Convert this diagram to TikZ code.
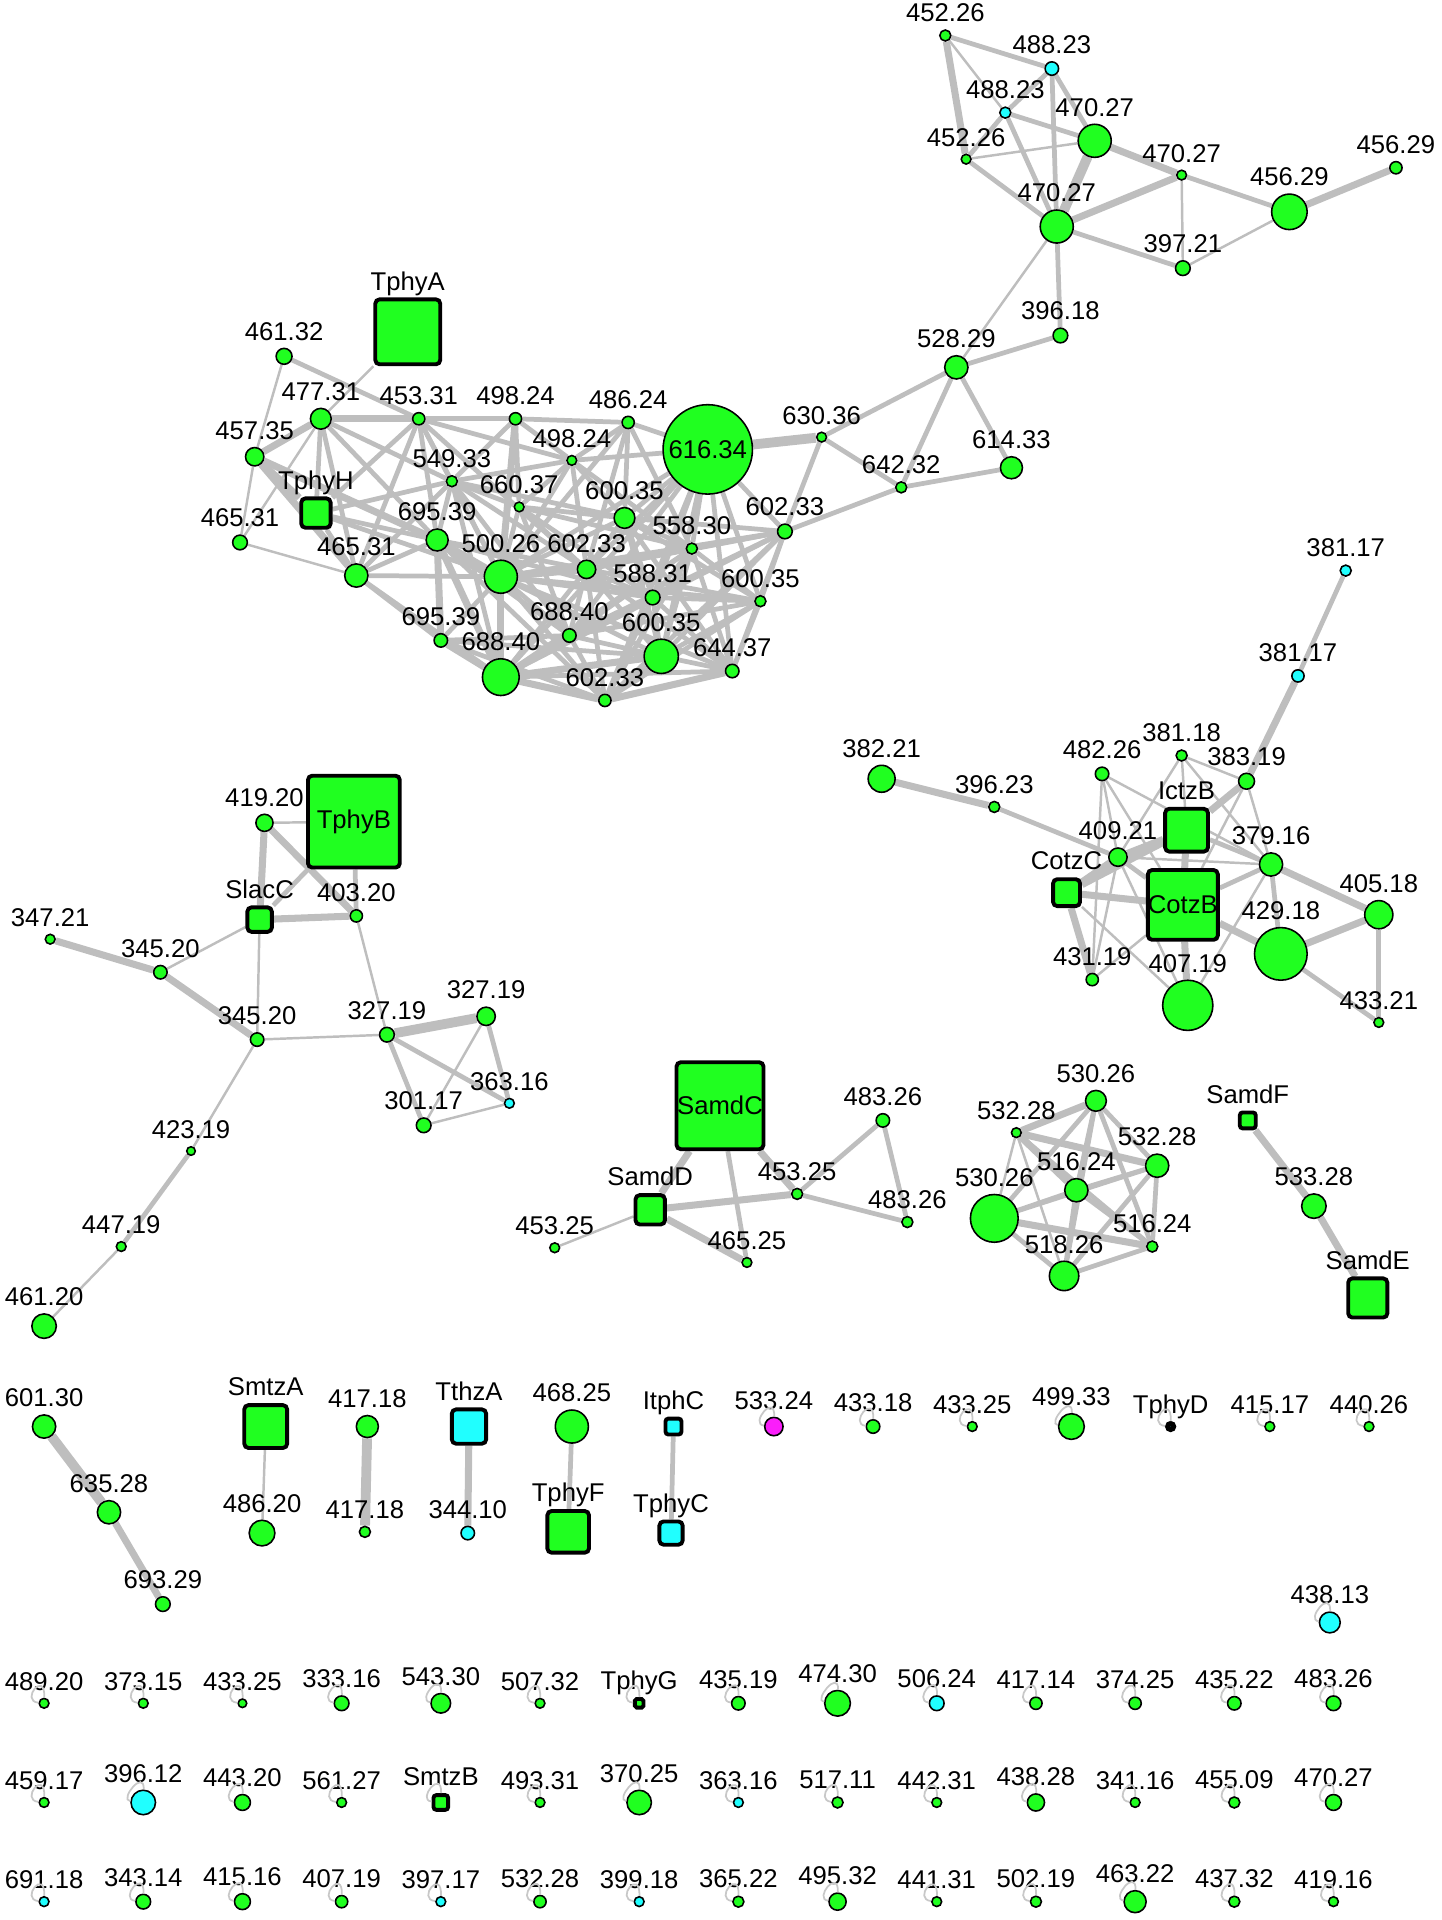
\documentclass[tikz,border=0pt]{standalone}
\usepackage{fontspec}
\setmainfont{Liberation Sans}
\usetikzlibrary{backgrounds}

\definecolor{mzgreen}{RGB}{32,255,32}
\definecolor{mzcyan}{RGB}{32,255,255}
\definecolor{mzpink}{RGB}{250,30,250}
\definecolor{edgegray}{RGB}{190,190,190}
\definecolor{loopgray}{RGB}{200,200,200}
\newcommand{\lbl}{\fontsize{7.3}{8.5}\selectfont}

\tikzset{
	every label/.style={font=\lbl, inner sep=0.4pt, text depth=1.2pt},
	label distance=0.3pt,
	mz/.style={circle, draw=black, line width=0.45pt, fill=mzgreen, inner sep=0pt, font=\lbl, minimum size=#1*0.1224mm},
	org/.style={rectangle, rounded corners=1.2pt, draw=black, line width=1.1pt, fill=mzgreen, inner sep=0pt, font=\lbl, minimum size=#1*0.1224mm},
	e1/.style={draw=edgegray, line width=0.7pt},
	e2/.style={draw=edgegray, line width=1.35pt},
	e3/.style={draw=edgegray, line width=2pt},
	e4/.style={draw=edgegray, line width=2.8pt},
	selfloop/.style={draw=loopgray, line width=0.5pt}
}

\begin{document}
\begin{tikzpicture}[x=0.1224mm, y=-0.1224mm]
	\useasboundingbox (0,0) rectangle (1177,1568);
	% top right group
	\node[mz=9, label=above:452.26] (t1) at (772,29) {};
	\node[mz=11, fill=mzcyan, label=above:488.23] (t2) at (859,56) {};
	\node[mz=9, fill=mzcyan, label=above:488.23] (t3) at (821,92) {};
	\node[mz=27, label=above:470.27] (t4) at (894,115) {};
	\node[mz=8, label=above:452.26] (t5) at (789,130) {};
	\node[mz=8, label=above:470.27] (t6) at (965,143) {};
	\node[mz=27, label=above:470.27] (t7) at (863,185) {};
	\node[mz=29, label=above:456.29] (t8) at (1053,173) {};
	\node[mz=10, label=above:456.29] (t9) at (1140,137) {};
	\node[mz=12, label=above:397.21] (t10) at (966,219) {};
	\node[mz=12, label=above:396.18] (t11) at (866,274) {};
	\node[mz=19, label=above:528.29] (t12) at (781,300) {};
	% big group
	\node[org=53, label=above:TphyA] (d1) at (333,271) {};
	\node[mz=13, label=above:461.32] (d2) at (232,291) {};
	\node[mz=17, label=above:477.31] (d3) at (262,342) {};
	\node[mz=10, label=above:453.31] (d4) at (342,342) {};
	\node[mz=10, label=above:498.24] (d5) at (421,342) {};
	\node[mz=10, label=above:486.24] (d6) at (513,345) {};
	\node[mz=73] (d7) at (578,367) {616.34};
	\node[mz=15, label=above:457.35] (d8) at (208,373) {};
	\node[mz=8, label=above:498.24] (d9) at (467,376) {};
	\node[mz=9, label=above:549.33] (d10) at (369,393) {};
	\node[org=24, label=above:TphyH] (d11) at (258,419) {};
	\node[mz=8, label=above:660.37] (d12) at (424,414) {};
	\node[mz=17, label=above:600.35] (d13) at (510,423) {};
	\node[mz=12, label=above:465.31] (d14) at (196,443) {};
	\node[mz=18, label=above:695.39] (d15) at (357,441) {};
	\node[mz=9, label=above:558.30] (d16) at (565,448) {};
	\node[mz=12, label=above:602.33] (d17) at (641,434) {};
	\node[mz=19, label=above:465.31] (d18) at (291,470) {};
	\node[mz=27, label=above:500.26] (d19) at (409,471) {};
	\node[mz=15, label=above:602.33] (d20) at (479,465) {};
	\node[mz=12, label=above:588.31] (d21) at (533,488) {};
	\node[mz=9, label=above:600.35] (d22) at (621,491) {};
	\node[mz=11, label=above:695.39] (d23) at (360,523) {};
	\node[mz=11, label=above:688.40] (d24) at (465,519) {};
	\node[mz=28, label=above:600.35] (d25) at (540,536) {};
	\node[mz=11, label=above:644.37] (d26) at (598,548) {};
	\node[mz=30, label=above:688.40] (d27) at (409,553) {};
	\node[mz=10, label=above:602.33] (d28) at (494,572) {};
	\node[mz=8, label=above:630.36] (d29) at (671,357) {};
	\node[mz=9, label=above:642.32] (d30) at (736,398) {};
	\node[mz=18, label=above:614.33] (d31) at (826,382) {};
	% cotz group
	\node[mz=9, fill=mzcyan, label=above:381.17] (c17) at (1099,466) {};
	\node[mz=10, fill=mzcyan, label=above:381.17] (c16) at (1060,552) {};
	\node[mz=22, label=above:382.21] (c1) at (720,636) {};
	\node[mz=9, label=above:396.23] (c2) at (812,659) {};
	\node[mz=11, label=above:482.26] (c3) at (900,632) {};
	\node[mz=9, label=above:381.18] (c4) at (965,617) {};
	\node[mz=13, label=above:383.19] (c5) at (1018,638) {};
	\node[org=35, label=above:IctzB] (c6) at (969,678) {};
	\node[mz=15, label=above:409.21] (c7) at (913,700) {};
	\node[mz=19, label=above:379.16] (c8) at (1038,706) {};
	\node[org=22, label=above:CotzC] (c9) at (871,729) {};
	\node[org=57] (c10) at (966,739) {CotzB};
	\node[mz=23, label=above:405.18] (c11) at (1126,747) {};
	\node[mz=43, label=above:429.18] (c12) at (1046,779) {};
	\node[mz=10, label=above:431.19] (c13) at (892,800) {};
	\node[mz=41, label=above:407.19] (c14) at (970,821) {};
	\node[mz=8, label=above:433.21] (c15) at (1126,835) {};
	% tphyb group
	\node[org=75] (b1) at (289,671) {TphyB};
	\node[mz=14, label=above:419.20] (b2) at (216,672) {};
	\node[org=20, label=above:SlacC] (b3) at (212,751) {};
	\node[mz=10, label=above:403.20] (b4) at (291,748) {};
	\node[mz=8, label=above:347.21] (b5) at (41,767) {};
	\node[mz=11, label=above:345.20] (b6) at (131,794) {};
	\node[mz=11, label=above:345.20] (b7) at (210,849) {};
	\node[mz=12, label=above:327.19] (b8) at (316,845) {};
	\node[mz=15, label=above:327.19] (b9) at (397,830) {};
	\node[mz=12, label=above:301.17] (b10) at (346,919) {};
	\node[mz=8, fill=mzcyan, label=above:363.16] (b11) at (416,901) {};
	\node[mz=7, label=above:423.19] (b12) at (156,940) {};
	\node[mz=8, label=above:447.19] (b13) at (99,1018) {};
	\node[mz=20, label=above:461.20] (b14) at (36,1083) {};
	% samd groups
	\node[org=71] (s1) at (588,903) {SamdC};
	\node[org=24, label=above:SamdD] (s2) at (531,988) {};
	\node[mz=8, label=above:453.25] (s3) at (453,1019) {};
	\node[mz=8, label=above:465.25] (s4) at (610,1031) {};
	\node[mz=9, label=above:453.25] (s5) at (651,975) {};
	\node[mz=11, label=above:483.26] (s6) at (721,915) {};
	\node[mz=9, label=above:483.26] (s7) at (741,998) {};
	\node[mz=17, label=above:530.26] (r1) at (895,899) {};
	\node[mz=8, label=above:532.28] (r2) at (830,925) {};
	\node[mz=19, label=above:532.28] (r3) at (945,952) {};
	\node[mz=19, label=above:516.24] (r4) at (879,972) {};
	\node[mz=39, label=above:530.26] (r5) at (812,995) {};
	\node[mz=9, label=above:516.24] (r6) at (941,1018) {};
	\node[mz=24, label=above:518.26] (r7) at (869,1042) {};
	\node[org=13, rounded corners=0.8pt, label=above:SamdF] (u1) at (1019,915) {};
	\node[mz=20, label=above:533.28] (u2) at (1073,985) {};
	\node[org=32, label=above:SamdE] (u3) at (1117,1060) {};
	% pairs
	\node[mz=19, label=above:601.30] (p1) at (36,1165) {};
	\node[mz=19, label=above:635.28] (p2) at (89,1235) {};
	\node[mz=12, label=above:693.29] (p3) at (133,1310) {};
	\node[org=35, label=above:SmtzA] (p4) at (217,1165) {};
	\node[mz=21, label=above:486.20] (p5) at (214,1252) {};
	\node[mz=18, label=above:417.18] (p6) at (300,1165) {};
	\node[mz=9, label=above:417.18] (p7) at (298,1251) {};
	\node[org=28, fill=mzcyan, label=above:TthzA] (p8) at (383,1165) {};
	\node[mz=11, fill=mzcyan, label=above:344.10] (p9) at (382,1252) {};
	\node[mz=27, label=above:468.25] (p10) at (467,1165) {};
	\node[org=34, label=above:TphyF] (p11) at (464,1251) {};
	\node[org=13, rounded corners=0.8pt, fill=mzcyan, label=above:ItphC] (p12) at (550,1165) {};
	\node[org=19, fill=mzcyan, label=above:TphyC] (p13) at (548,1252) {};
	% single ones
	\foreach \x/\m/\s/\c in {632/533.24/15/mzpink, 713/433.18/11/mzgreen, 794/433.25/8/mzgreen, 875/499.33/21/mzgreen, 1037/415.17/8/mzgreen, 1118/440.26/8/mzgreen}{
		\node[mz=\s, fill=\c, label=above:\m] (i\x) at (\x,1165) {};
		\draw[selfloop] (i\x) .. controls +(-20,-2) and +(1,-28) .. (i\x);
	}
	\node[mz=5, line width=1.4pt, fill=mzcyan, label=above:TphyD] (iD) at (956,1165) {};
	\draw[selfloop] (iD) .. controls +(-20,-2) and +(1,-28) .. (iD);
	\node[mz=17, fill=mzcyan, label=above:438.13] (iL) at (1086,1325) {};
	\draw[selfloop] (iL) .. controls +(-20,-2) and +(1,-28) .. (iL);
	% row a
	\foreach \x/\m/\s/\c in {36/489.20/8/mzgreen, 117/373.15/8/mzgreen, 198/433.25/7/mzgreen, 279/333.16/12/mzgreen, 360/543.30/16/mzgreen, 441/507.32/8/mzgreen, 603/435.19/11/mzgreen, 684/474.30/21/mzgreen, 765/506.24/12/mzcyan, 846/417.14/10/mzgreen, 927/374.25/10/mzgreen, 1008/435.22/11/mzgreen, 1089/483.26/12/mzgreen}{
		\node[mz=\s, fill=\c, label=above:\m] (a\x) at (\x,1391) {};
		\draw[selfloop] (a\x) .. controls +(-20,-2) and +(1,-28) .. (a\x);
	}
	\node[org=7, rounded corners=0.5pt, label=above:TphyG] (aG) at (522,1391) {};
	\draw[selfloop] (aG) .. controls +(-20,-2) and +(1,-28) .. (aG);
	% row b
	\foreach \x/\m/\s/\c in {36/459.17/8/mzgreen, 117/396.12/20/mzcyan, 198/443.20/13/mzgreen, 279/561.27/8/mzgreen, 441/493.31/8/mzgreen, 522/370.25/20/mzgreen, 603/363.16/8/mzcyan, 684/517.11/9/mzgreen, 765/442.31/8/mzgreen, 846/438.28/14/mzgreen, 927/341.16/8/mzgreen, 1008/455.09/9/mzgreen, 1089/470.27/13/mzgreen}{
		\node[mz=\s, fill=\c, label=above:\m] (b\x) at (\x,1472) {};
		\draw[selfloop] (b\x) .. controls +(-20,-2) and +(1,-28) .. (b\x);
	}
	\node[org=12, rounded corners=0.8pt, label=above:SmtzB] (bS) at (360,1472) {};
	\draw[selfloop] (bS) .. controls +(-20,-2) and +(1,-28) .. (bS);
	% row c
	\foreach \x/\m/\s/\c in {36/691.18/8/mzcyan, 117/343.14/12/mzgreen, 198/415.16/13/mzgreen, 279/407.19/10/mzgreen, 360/397.17/8/mzcyan, 441/532.28/10/mzgreen, 522/399.18/8/mzcyan, 603/365.22/9/mzgreen, 684/495.32/14/mzgreen, 765/441.31/8/mzgreen, 846/502.19/9/mzgreen, 927/463.22/18/mzgreen, 1008/437.32/9/mzgreen, 1089/419.16/8/mzgreen}{
		\node[mz=\s, fill=\c, label=above:\m] (c\x) at (\x,1553) {};
		\draw[selfloop] (c\x) .. controls +(-20,-2) and +(1,-28) .. (c\x);
	}
	% edges go behind
	\begin{scope}[on background layer]
		\foreach \a/\b in {t1/t3, t5/t4, t6/t10, t10/t8, t7/t12, d1/d3, d2/d8, d8/d14, d14/d18, d14/d3, c3/c7, c3/c13, c3/c10, c3/c8, c4/c5, c4/c7, c4/c6, c4/c8, c7/c8, c7/c13, c7/c14, c9/c14, c10/c13, c8/c14, c5/c8, c5/c10, b2/b1, b3/b6, b3/b7, b4/b8, b7/b8, b7/b12, b13/b14, b9/b10, b10/b11, s2/s3, r2/r5, r2/r7, p4/p5}
			\draw[e1] (\a) -- (\b);
		\foreach \a/\b in {t1/t2, t2/t3, t2/t4, t2/t7, t3/t4, t3/t7, t3/t5, t5/t7, t6/t8, t7/t10, t7/t11, t12/t11, d29/t12, d30/t12, d31/t12, d30/d31, d29/d30, d29/d17, d30/d17}
			\draw[e2] (\a) -- (\b);
		\foreach \a/\b in {d2/d4, d3/d11, d3/d18, d3/d15, d3/d10, d4/d5, d4/d10, d4/d15, d4/d18, d4/d19, d4/d11, d4/d9, d4/d20, d11/d10, d11/d15, d11/d19, d11/d18, d18/d15, d18/d10, d18/d23, d18/d19, d18/d27, d15/d10, d15/d24, d15/d20, d15/d21, d15/d28, d10/d5, d10/d9, d10/d13, d10/d19, d10/d20, d10/d24, d10/d27, d5/d6, d5/d9, d5/d12, d6/d9, d6/d13, d6/d20, d6/d19, d6/d16, d6/d7, d9/d19, d9/d13, d9/d20, d9/d16, d9/d12, d9/d7, d12/d19, d12/d20, d12/d24, d12/d21, d12/d13, d12/d16, d12/d10, d7/d13, d7/d16, d7/d17, d7/d20, d7/d21, d7/d22, d7/d25, d7/d26, d7/d19, d7/d24, d7/d28, d7/d27, d17/d16, d17/d21, d17/d22, d17/d25, d17/d26, d17/d19, d17/d20, d17/d13, d17/d28, d17/d27, d17/d24, d19/d21, d19/d24, d19/d25, d19/d28, d19/d16, d19/d22, d19/d13, d19/d26, d20/d21, d20/d25, d20/d27, d20/d28, d20/d16, d20/d24, d20/d22, d20/d26, d21/d25, d21/d22, d21/d27, d21/d28, d21/d16, d21/d24, d21/d26, d22/d26, d22/d25, d22/d28, d22/d24, d16/d25, d16/d13, d16/d22, d16/d26, d16/d28, d16/d24, d16/d27, d13/d21, d13/d20, d13/d25, d13/d22, d13/d26, d23/d24, d23/d28, d23/d25, d23/d19, d24/d27, d24/d25, d24/d28, d25/d26, d26/d27}
			\draw[e2] (\a) -- (\b);
		\foreach \a/\b in {c16/c17, c2/c7, c6/c8, c7/c10, c10/c8, c11/c15, c12/c15, c8/c12, b1/b3, b1/b4, b12/b13, b8/b10, b8/b11, b9/b11, s1/s4, s5/s6, s5/s7, s6/s7, r1/r3, r1/r4, r1/r5, r1/r7, r1/r6, r3/r4, r3/r5, r3/r6, r3/r7, r4/r5, r4/r6, r4/r7, r5/r7, r6/r7, r2/r6, p10/p11, p12/p13}
			\draw[e2] (\a) -- (\b);
		\foreach \a/\b in {t1/t5, t4/t6, t7/t6, t8/t9, d3/d4, d3/d8, d8/d11, d8/d15, d8/d18, d5/d19, d15/d19, d15/d23, d15/d27, d19/d20, d19/d27, d23/d27, d25/d27, d25/d28, d26/d28, d27/d28, c1/c2, c16/c5, c5/c6, c6/c7, c6/c10, c6/c9, c7/c9, c9/c10, c9/c13, c10/c12, c10/c14, c8/c11, c11/c12, b2/b3, b2/b4, b3/b4, b5/b6, b6/b7, s1/s2, s1/s5, s2/s4, s2/s5, r1/r2, r2/r3, r2/r4, r5/r6, u1/u2, u2/u3, p2/p3, p8/p9}
			\draw[e3] (\a) -- (\b);
		\foreach \a/\b in {t4/t7, d7/d29, b8/b9, p1/p2, p6/p7}
			\draw[e4] (\a) -- (\b);
	\end{scope}
\end{tikzpicture}
\end{document}
